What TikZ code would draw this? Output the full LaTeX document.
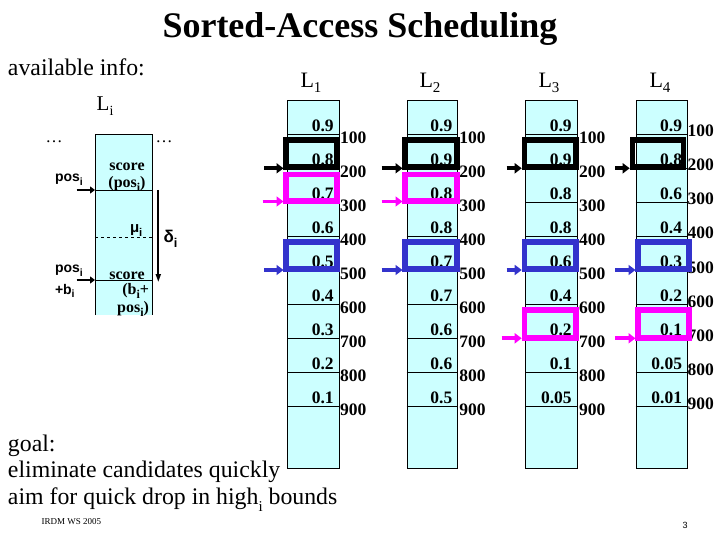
\documentclass[tikz,border=0pt]{standalone}
\usepackage{fontspec}
\setmainfont{Liberation Serif}
\setsansfont{Liberation Sans}
\usetikzlibrary{arrows.meta}
\definecolor{cellcyan}{HTML}{CCFFFF}
\definecolor{mag}{HTML}{FF00FF}
\definecolor{blu}{HTML}{3333CC}
\tikzset{
  txt/.style={inner sep=0pt, outer sep=0pt},
  score/.style={txt, anchor=base east, font=\fontsize{17.5}{17.5}\selectfont\bfseries},
  rank/.style={txt, anchor=base west, font=\fontsize{17.5}{17.5}\selectfont\bfseries},
  big/.style={txt, anchor=base west, font=\fontsize{23.8}{27}\selectfont},
  colhead/.style={txt, anchor=base, font=\fontsize{22}{22}\selectfont},
  selbox/.style={line width=5.8pt},
  selarrow/.style={line width=3.8pt, -{Triangle[length=7pt,width=10pt]}},
  thinarrow/.style={line width=1.8pt, -{Triangle[length=5pt,width=7pt]}},
  smallscore/.style={txt, anchor=base, font=\fontsize{16}{16}\selectfont\bfseries},
  possty/.style={txt, anchor=base west, font=\fontsize{14}{14}\selectfont\sffamily\bfseries},
}
\newcommand{\subi}{\raisebox{-0.25em}{\scalebox{0.75}{i}}}
\begin{document}
\begin{tikzpicture}[x=1pt,y=-1pt]
\useasboundingbox (0,0) rectangle (720,540);

% title
\node[txt, anchor=base, font=\fontsize{36}{40}\selectfont\bfseries] (title) at (360,38) {Sorted-Access Scheduling};

% left part
\node[big] (avail) at (8,76) {available info:};
\node[txt, anchor=base west, font=\fontsize{21}{21}\selectfont] (Li) at (96.7,110.7) {L\raisebox{-0.25em}{\fontsize{14}{14}\selectfont i}};
\fill[cellcyan] (95,134.3) rectangle (151.7,315);
\draw[thin] (95,315) -- (95,134.3) -- (151.7,134.3) -- (151.7,315);
\draw[thin] (95,190) -- (151.7,190);
\draw[thin] (95,280) -- (151.7,280);
\draw[thin, dashed] (95,236.7) -- (151.7,236.7);
\node[txt, anchor=base west, font=\fontsize{17}{17}\selectfont] (dotsL) at (45.5,143) {…};
\node[txt, anchor=base west, font=\fontsize{17}{17}\selectfont] (dotsR) at (155.5,143) {…};
\node[smallscore] (sc1) at (127,171) {score};
\node[smallscore] (sc1b) at (127,187.3) {(pos\subi)};
\node[smallscore] (sc2) at (127,279.3) {score};
\node[txt, anchor=base east, font=\fontsize{16}{16}\selectfont\bfseries] (sc2b) at (149,294) {(b\subi+};
\node[txt, anchor=base east, font=\fontsize{16}{16}\selectfont\bfseries] (sc2c) at (149,312.5) {pos\subi)};
\node[possty] (pos1) at (55,181.7) {pos\subi};
\node[possty] (pos2) at (55,272.7) {pos\subi};
\node[possty] (pos2b) at (55,294) {+b\subi};
\node[txt, anchor=base west, font=\fontsize{15}{15}\selectfont\sffamily\bfseries] (mu) at (130,232.7) {μ\subi};
\node[txt, anchor=base west, font=\fontsize{17}{17}\selectfont\sffamily\bfseries] (delta) at (163.5,243) {δ\subi};
\coordinate (pa1) at (76.7,190); \coordinate (pb1) at (95,190);
\coordinate (pa2) at (76.7,280); \coordinate (pb2) at (95,280);
\draw[thinarrow] (pa1) -- (pb1);
\draw[thinarrow] (pa2) -- (pb2);
\coordinate (dtop) at (158.3,190); \coordinate (dbot) at (158.3,282);
\draw[line width=1.8pt, -{Triangle[length=8pt,width=5pt]}] (dtop) -- (dbot);

% columns
\foreach \c/\L/\R in {1/287.3/338.7, 2/406.7/457.3, 3/525.5/576.7, 4/635.7/686.7}{
  \fill[cellcyan] (\L,100) rectangle (\R,468);
  \draw[thin] (\L,100) rectangle (\R,468);
  \foreach \k in {0,...,8}{
    \draw[thin] (\L,134+34*\k) -- (\R,134+34*\k);
  }
}
\node[colhead] (L1) at (311,87.3) {L\raisebox{-0.25em}{\fontsize{15}{15}\selectfont 1}};
\node[colhead] (L2) at (430,87.3) {L\raisebox{-0.25em}{\fontsize{15}{15}\selectfont 2}};
\node[colhead] (L3) at (549,87.3) {L\raisebox{-0.25em}{\fontsize{15}{15}\selectfont 3}};
\node[colhead] (L4) at (660,87.3) {L\raisebox{-0.25em}{\fontsize{15}{15}\selectfont 4}};

% scores
\foreach \v [count=\k from 0] in {0.9,0.8,0.7,0.6,0.5,0.4,0.3,0.2,0.1}
  \node[score] (sa\k) at (333.7,131.5+34*\k) {\v};
\foreach \v [count=\k from 0] in {0.9,0.9,0.8,0.8,0.7,0.7,0.6,0.6,0.5}
  \node[score] (sb\k) at (452.3,131.5+34*\k) {\v};
\foreach \v [count=\k from 0] in {0.9,0.9,0.8,0.8,0.6,0.4,0.2,0.1,0.05}
  \node[score] (sc\k) at (571.7,131.5+34*\k) {\v};
\foreach \v [count=\k from 0] in {0.9,0.8,0.6,0.4,0.3,0.2,0.1,0.05,0.01}
  \node[score] (sd\k) at (682,131.5+34*\k) {\v};

% ranks
\foreach \k in {1,...,9}{
  \node[rank] (ra\k) at (340.2,134+34*\k-34+9.5) {\k00};
  \node[rank] (rb\k) at (459.3,134+34*\k-34+9.5) {\k00};
  \node[rank] (rc\k) at (579,134+34*\k-34+9.5) {\k00};
  \node[rank] (rd\k) at (687.5,134+34*\k-34+3) {\k00};
}

% selection boxes
\draw[selbox, black] (286.3,140) rectangle (336.8,166.7);
\draw[selbox, mag]   (286.3,174.5) rectangle (336.8,201);
\draw[selbox, blu]   (286.3,241.8) rectangle (336.8,269);
\draw[selbox, black] (405.3,140) rectangle (456.7,166.7);
\draw[selbox, mag]   (405.3,174.5) rectangle (456.7,201);
\draw[selbox, blu]   (405.3,241.8) rectangle (456.7,269);
\draw[selbox, black] (524.5,140) rectangle (575.8,166.7);
\draw[selbox, blu]   (524.5,241.8) rectangle (575.8,269);
\draw[selbox, mag]   (524.5,310.3) rectangle (575.8,337.8);
\draw[selbox, black] (632.5,140) rectangle (683.4,166.7);
\draw[selbox, blu]   (638.2,241.8) rectangle (689.2,269);
\draw[selbox, mag]   (638.2,309.8) rectangle (689.2,337.8);

% arrows
\coordinate (a1k0) at (264,168.3);   \coordinate (a1k1) at (283.5,168.3);
\coordinate (a1m0) at (262.7,201.5); \coordinate (a1m1) at (283.5,201.5);
\coordinate (a1b0) at (264,270);     \coordinate (a1b1) at (283.5,270);
\coordinate (a2k0) at (381.7,168.3); \coordinate (a2k1) at (402.5,168.3);
\coordinate (a2m0) at (381.7,201.5); \coordinate (a2m1) at (402.5,201.5);
\coordinate (a2b0) at (381.7,270);   \coordinate (a2b1) at (402.5,270);
\coordinate (a3k0) at (506.7,168.3); \coordinate (a3k1) at (521.7,168.3);
\coordinate (a3b0) at (506.7,270);   \coordinate (a3b1) at (521.7,270);
\coordinate (a3m0) at (501.7,338.3); \coordinate (a3m1) at (521.7,338.3);
\coordinate (a4k0) at (615,168.3);   \coordinate (a4k1) at (629.7,168.3);
\coordinate (a4b0) at (615,270);     \coordinate (a4b1) at (635.5,270);
\coordinate (a4m0) at (615,338.3);   \coordinate (a4m1) at (635.5,338.3);
\draw[selarrow, black] (a1k0) -- (a1k1);
\draw[selarrow, mag]   (a1m0) -- (a1m1);
\draw[selarrow, blu]   (a1b0) -- (a1b1);
\draw[selarrow, black] (a2k0) -- (a2k1);
\draw[selarrow, mag]   (a2m0) -- (a2m1);
\draw[selarrow, blu]   (a2b0) -- (a2b1);
\draw[selarrow, black] (a3k0) -- (a3k1);
\draw[selarrow, blu]   (a3b0) -- (a3b1);
\draw[selarrow, mag]   (a3m0) -- (a3m1);
\draw[selarrow, black] (a4k0) -- (a4k1);
\draw[selarrow, blu]   (a4b0) -- (a4b1);
\draw[selarrow, mag]   (a4m0) -- (a4m1);

% bottom text
\node[big] (goal) at (8,451) {goal:};
\node[big] (elim) at (8,477.5) {eliminate candidates quickly};
\node[big] (aim) at (8,504) {aim for quick drop in high\raisebox{-0.3em}{\fontsize{15}{15}\selectfont i} bounds};
\node[txt, anchor=base west, font=\fontsize{9}{9}\selectfont] (irdm) at (41.7,524) {IRDM WS 2005};
\node[txt, anchor=base, font=\fontsize{9}{9}\selectfont\sffamily] (pg) at (685,528) {3};
\end{tikzpicture}
\end{document}
